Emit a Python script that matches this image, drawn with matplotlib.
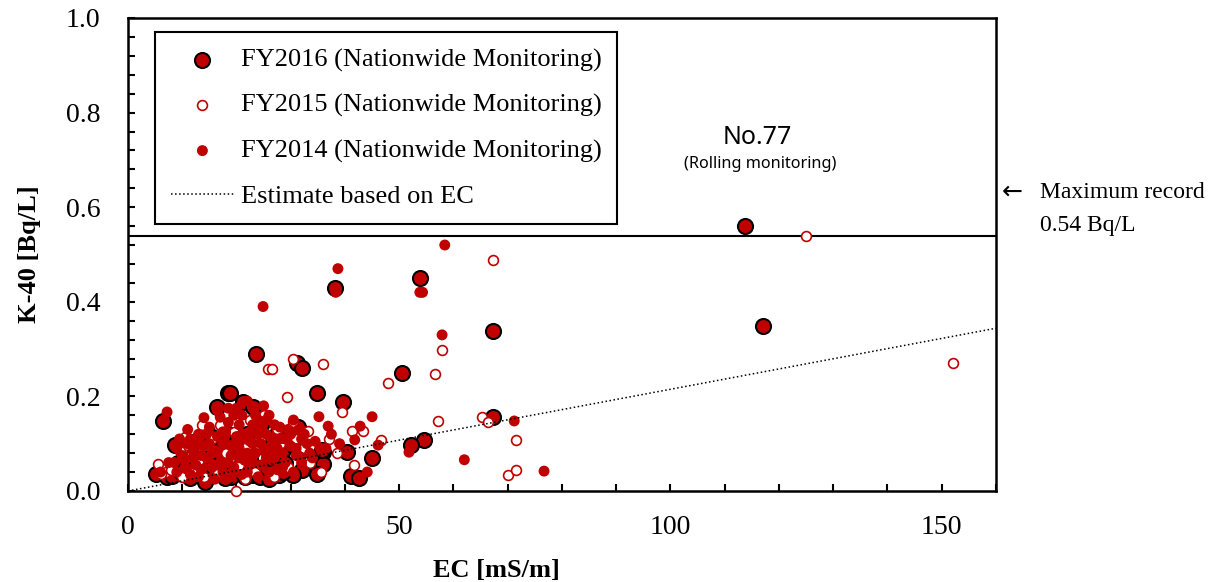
#!/usr/bin/env python3

import numpy as np
import matplotlib
matplotlib.use('Agg')
import matplotlib.pyplot as plt
from matplotlib.ticker import MultipleLocator

plt.rcParams['font.family'] = ['Liberation Serif', 'DejaVu Serif']

RED = '#C00000'

# FY2016 nationwide monitoring (EC [mS/m], K-40 [Bq/L])
ec_2016 = [113.7, 117.0, 53.8, 38.2, 67.3, 50.6, 23.6, 31.2, 32.0, 39.6,
           34.8, 18.4, 21.2, 16.4, 6.5, 23.0, 67.3, 54.6, 52.2, 45.0,
           40.4, 36.0, 36.0, 34.8, 41.1, 42.6, 32.0, 31.3, 8.7, 14.6,
           12.9, 25.6, 28.6, 31.7, 5.2, 7.2, 9.2, 10.9, 12.7, 14.7,
           14.2, 23.0, 24.3, 25.6, 26.8, 30.5, 17.5, 21.0, 22.5, 20.0,
           16.5, 18.5, 24.5, 27.5, 29.0, 19.0, 11.8, 15.0, 20.3, 35.8,
           18.8, 27.9, 21.7, 8.1, 9.8, 11.5, 13.5, 16.0, 17.8, 19.5,
           21.5, 22.8, 26.0, 28.5, 12.0, 15.5, 19.8, 22.0, 26.5, 29.8,
           17.0]
k40_2016 = [0.560, 0.349, 0.450, 0.430, 0.338, 0.249, 0.289, 0.270, 0.260, 0.188,
            0.208, 0.207, 0.189, 0.178, 0.148, 0.178, 0.157, 0.108, 0.097, 0.070,
            0.082, 0.083, 0.058, 0.035, 0.032, 0.028, 0.045, 0.135, 0.097, 0.125,
            0.108, 0.108, 0.087, 0.082, 0.036, 0.030, 0.059, 0.050, 0.045, 0.030,
            0.019, 0.034, 0.030, 0.049, 0.040, 0.034, 0.050, 0.060, 0.068, 0.085,
            0.095, 0.120, 0.140, 0.120, 0.060, 0.030, 0.061, 0.070, 0.112, 0.087,
            0.207, 0.034, 0.045, 0.032, 0.040, 0.028, 0.050, 0.035, 0.028, 0.045,
            0.030, 0.052, 0.025, 0.040, 0.075, 0.115, 0.100, 0.120, 0.095, 0.100,
            0.080]

# FY2015 nationwide monitoring
ec_2015 = [125.0, 152.0, 67.3, 57.9, 56.6, 47.9, 39.4, 57.2, 65.3, 66.4,
           71.5, 70.0, 71.5, 46.6, 41.3, 43.3, 41.7, 38.5, 33.2, 35.9,
           25.8, 26.5, 30.4, 29.3, 19.9, 13.6, 10.9, 11.8, 5.5, 7.0,
           10.5, 8.0, 9.5, 12.0, 13.0, 15.5, 16.5, 18.0, 19.5, 20.5,
           22.0, 23.5, 24.5, 26.0, 27.0, 28.0, 29.5, 30.5, 32.5, 33.5,
           35.5, 37.0, 22.5, 17.0, 14.0, 21.5, 25.0, 27.5, 31.0, 10.0,
           6.0]
k40_2015 = [0.540, 0.270, 0.488, 0.298, 0.248, 0.228, 0.168, 0.148, 0.157, 0.146,
            0.108, 0.034, 0.045, 0.108, 0.127, 0.127, 0.055, 0.080, 0.127, 0.268,
            0.258, 0.258, 0.280, 0.199, 0.000, 0.140, 0.097, 0.080, 0.057, 0.040,
            0.114, 0.045, 0.085, 0.040, 0.065, 0.110, 0.040, 0.080, 0.125, 0.055,
            0.095, 0.040, 0.115, 0.070, 0.030, 0.100, 0.050, 0.145, 0.090, 0.060,
            0.040, 0.110, 0.150, 0.140, 0.030, 0.025, 0.160, 0.130, 0.110, 0.030,
            0.035]

# FY2014 nationwide monitoring
ec_2014 = [58.4, 38.7, 54.3, 53.8, 57.9, 24.9, 38.3, 35.2, 36.9, 45.0,
           42.8, 41.8, 46.1, 44.1, 51.8, 62.0, 71.2, 76.7, 35.4, 7.2,
           17.0, 32.0, 8.5, 9.0, 10.0, 10.5, 11.0, 11.5, 12.0, 12.5,
           13.0, 13.5, 14.0, 14.5, 15.0, 15.5, 16.0, 16.5, 17.0, 17.5,
           18.0, 18.5, 19.0, 19.5, 20.0, 20.5, 21.0, 21.5, 22.0, 22.5,
           23.0, 23.5, 24.0, 24.5, 25.0, 25.5, 26.0, 26.5, 27.0, 27.5,
           28.0, 28.5, 29.0, 29.5, 30.0, 30.5, 31.0, 32.0, 33.0, 34.0,
           13.0, 16.0, 19.0, 21.0, 24.0, 26.0, 12.0, 17.5, 20.0, 22.0,
           23.5, 25.5, 15.0, 18.5, 9.5, 7.5, 6.0, 11.0, 14.0, 16.5,
           20.5, 27.5, 29.0, 31.5, 33.5, 37.5, 39.0, 24.5, 21.5,
           9.0, 10.5, 11.5, 12.5, 13.5, 14.5, 15.5, 16.5, 17.5, 18.0,
           19.0, 19.5, 20.5, 21.0, 22.0, 22.5, 23.0, 24.0, 25.0, 25.5,
           26.5, 27.0, 28.0, 28.5, 30.0, 31.0, 32.5, 18.5, 23.0, 26.0,
           30.5, 34.5, 36.5]
k40_2014 = [0.520, 0.470, 0.420, 0.420, 0.330, 0.390, 0.420, 0.157, 0.137, 0.157,
            0.137, 0.108, 0.097, 0.040, 0.082, 0.066, 0.148, 0.042, 0.091, 0.167,
            0.156, 0.110, 0.060, 0.040, 0.075, 0.050, 0.100, 0.035, 0.085, 0.055,
            0.120, 0.045, 0.095, 0.070, 0.135, 0.050, 0.085, 0.115, 0.060, 0.040,
            0.100, 0.145, 0.075, 0.050, 0.115, 0.090, 0.160, 0.065, 0.040, 0.125,
            0.100, 0.080, 0.150, 0.055, 0.180, 0.120, 0.090, 0.065, 0.140, 0.045,
            0.110, 0.080, 0.060, 0.130, 0.095, 0.040, 0.075, 0.060, 0.100, 0.070,
            0.030, 0.025, 0.030, 0.035, 0.030, 0.040, 0.070, 0.125, 0.175, 0.190,
            0.160, 0.150, 0.100, 0.060, 0.110, 0.060, 0.040, 0.130, 0.155, 0.170,
            0.140, 0.090, 0.110, 0.130, 0.080, 0.120, 0.100, 0.100, 0.110,
            0.090, 0.065, 0.110, 0.095, 0.075, 0.120, 0.080, 0.055, 0.100, 0.125,
            0.095, 0.160, 0.070, 0.120, 0.080, 0.105, 0.060, 0.120, 0.085, 0.070,
            0.110, 0.070, 0.135, 0.050, 0.120, 0.090, 0.120, 0.175, 0.140, 0.160,
            0.150, 0.105, 0.090]

# estimate line K-40 = a * EC
ec_fit = [0, 160]
slope = 0.00215
max_record = 0.54


def main():
  fig = plt.figure(figsize=(12.19, 5.82), dpi=100)
  ax = fig.add_axes([0.105, 0.1564, 0.712, 0.8127])

  ax.scatter(ec_2016, k40_2016, s=117, facecolor=RED, edgecolor='black',
             linewidths=1.5, zorder=3, clip_on=False,
             label='FY2016 (Nationwide Monitoring)')
  ax.scatter(ec_2015, k40_2015, s=50, facecolor='white', edgecolor=RED,
             linewidths=1.2, zorder=4, clip_on=False,
             label='FY2015 (Nationwide Monitoring)')
  ax.scatter(ec_2014, k40_2014, s=62, facecolor=RED, edgecolor='none',
             zorder=5, clip_on=False,
             label='FY2014 (Nationwide Monitoring)')

  x_fit = np.array(ec_fit)
  ax.plot(x_fit, slope * x_fit, color='black', ls=':', lw=1.1, zorder=6,
          label='Estimate based on EC')

  ax.axhline(max_record, color='black', lw=1.5, zorder=2)

  ax.set_xlim(0, 160)
  ax.set_ylim(0, 1.0)
  ax.xaxis.set_major_locator(MultipleLocator(50))
  ax.xaxis.set_minor_locator(MultipleLocator(10))
  ax.yaxis.set_major_locator(MultipleLocator(0.2))
  ax.yaxis.set_minor_locator(MultipleLocator(0.04))
  ax.yaxis.set_major_formatter(plt.FormatStrFormatter('%.1f'))

  ax.tick_params(which='both', direction='in', length=5, width=1.5,
                 top=False, right=False, labelsize=20)
  ax.tick_params(axis='y', pad=20)
  ax.tick_params(axis='x', pad=17)
  for sp in ax.spines.values():
    sp.set_linewidth(1.8)

  ax.set_xlabel('EC [mS/m]', fontsize=19, fontweight='bold')
  ax.xaxis.set_label_coords(0.425, -0.143)
  ax.set_ylabel('K-40 [Bq/L]', fontsize=19, fontweight='bold', labelpad=18)

  leg = ax.legend(loc='upper left', bbox_to_anchor=(0.031, 0.970),
                  borderaxespad=0, fontsize=19, frameon=True, fancybox=False,
                  edgecolor='black', framealpha=1, labelspacing=0.82,
                  handlelength=2.4, handletextpad=0.25, borderpad=0.6,
                  scatterpoints=1)
  leg.get_frame().set_linewidth(1.5)
  leg.set_zorder(10)

  ax.text(116.1, 0.748, 'No.77', ha='center', va='center',
          fontsize=18, family=['Noto Sans', 'DejaVu Sans'])
  ax.text(116.6, 0.692, '(Rolling monitoring)', ha='center', va='center',
          fontsize=11.7, family=['Noto Sans', 'DejaVu Sans'])

  fig.text(1002 / 1219, 1 - 192 / 582, '\u2190', ha='left', va='center',
           fontsize=18, family=['DejaVu Sans'])
  fig.text(1040 / 1219, 1 - 193 / 582, 'Maximum record',
           ha='left', va='center', fontsize=17)
  fig.text(1040 / 1219, 1 - 226 / 582, '0.54 Bq/L',
           ha='left', va='center', fontsize=17)

  fig.savefig('out.png', dpi=100)


if __name__ == '__main__':
  main()
